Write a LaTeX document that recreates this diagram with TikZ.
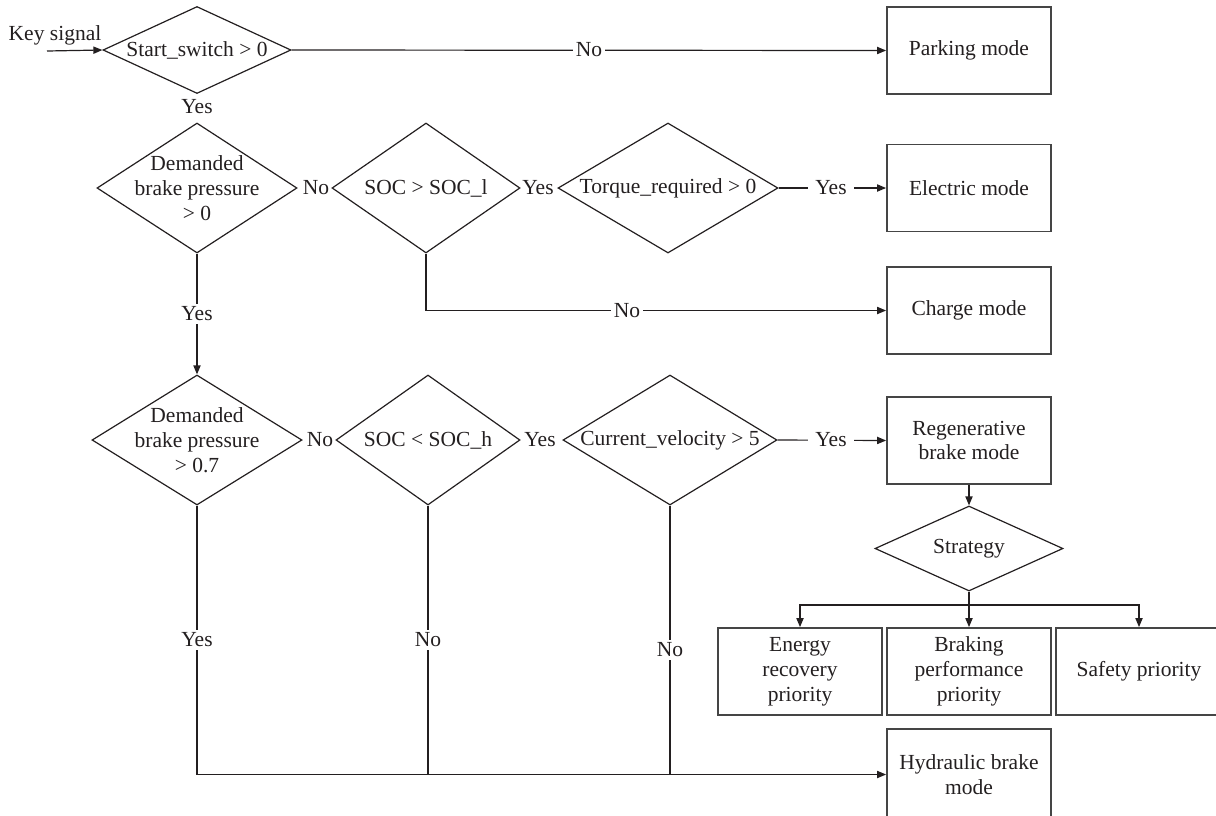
\documentclass[tikz,border=0pt]{standalone}
\usepackage{fontspec}
\setmainfont{Liberation Serif}
\usetikzlibrary{shapes.geometric,arrows.meta}
\definecolor{ink}{HTML}{231F20}
\definecolor{frame}{HTML}{454545}
\begin{document}
\begin{tikzpicture}[x=0.5pt,y=-0.5pt,
  every node/.style={font=\fontsize{10.75}{12.4}\selectfont, text=ink},
  dia/.style={draw=ink, diamond, inner sep=0pt, line width=0.6pt},
  modebox/.style={draw=frame, line width=0.9pt, minimum width=82pt,
    minimum height=43.5pt, inner sep=0pt, align=center},
  txt/.style={align=center, inner sep=1pt},
  lbl/.style={fill=white, inner sep=1.5pt},
  wire/.style={draw=ink, line width=0.6pt},
  arr/.style={wire, -{Triangle[length=4.5pt,width=3.6pt]}}]
\useasboundingbox (0,0) rectangle (1216,815);

% decision diamonds
\node[dia, minimum width=94pt,  minimum height=43.5pt] (d1) at (197,50) {};
\node[dia, minimum width=100pt, minimum height=65pt] (d2) at (197,188) {};
\node[dia, minimum width=94pt,  minimum height=65pt] (d3) at (426,188) {};
\node[dia, minimum width=110pt, minimum height=65pt] (d4) at (668,188) {};
\node[dia, minimum width=105pt, minimum height=65pt] (d5) at (197,440) {};
\node[dia, minimum width=92pt,  minimum height=65pt] (d6) at (428,440) {};
\node[dia, minimum width=107pt, minimum height=65pt] (d7) at (670,440) {};
\node[dia, minimum width=94pt,  minimum height=42.5pt] (strat) at (969,548.5) {};

\node[txt] (t1) at (d1) {Start\_switch > 0};
\node[txt] (t2) at (d2) {Demanded\\brake pressure\\> 0};
\node[txt] (t3) at (d3) {SOC > SOC\_l};
\node[txt] (t4) at (d4) {Torque\_required > 0};
\node[txt] (t5) at (d5) {Demanded\\brake pressure\\> 0.7};
\node[txt] (t6) at (d6) {SOC < SOC\_h};
\node[txt] (t7) at (d7) {Current\_velocity > 5};
\node[txt] (t8) at (strat) {Strategy};

% mode boxes
\node[modebox] (park) at (969,50.5) {Parking mode};
\node[modebox] (elec) at (969,188) {Electric mode};
\node[modebox] (charge) at (969,310.5) {Charge mode};
\node[modebox] (regen) at (969,440.5) {Regenerative\\brake mode};
\node[modebox] (energy) at (800,671.5) {Energy\\recovery\\priority};
\node[modebox] (braking) at (969,671.5) {Braking\\performance\\priority};
\node[modebox, minimum width=83pt] (safety) at (1139,671.5) {Safety priority};
% this box runs past the lower edge of the page
\node[modebox, minimum height=45.5pt] (hyd) at (969,774.5) {Hydraulic brake\\mode};

% key signal input
\coordinate (kin) at (47,51);
\node[txt] (kslbl) at (55,35) {Key signal};
\draw[arr] (kin) -- (d1.west);

% connectors
\draw[arr] (d1.east) -- (park.west);
\draw[arr] (d4.east) -- (elec.west);
\draw[arr] (d3.south) |- (charge.west);
\draw[arr] (d2.south) -- (d5.north);
\draw[arr] (d7.east) -- (regen.west);
\draw[arr] (d5.south) |- (hyd.west);
\draw[wire] (d6.south) -- (d6.south |- hyd.west);
\draw[wire] (d7.south) -- (d7.south |- hyd.west);
\draw[arr] (regen.south) -- (strat.north);
\coordinate (br) at (969,605);
\draw[wire] (strat.south) -- (br);
\draw[arr] (br) -| (energy.north);
\draw[arr] (br) -- (braking.north);
\draw[arr] (br) -| (safety.north);

% branch labels
\node[lbl] (l1) at (589,50) {No};
\node[txt] (l2) at (197,107) {Yes};
\node[txt] (l3) at (316,188) {No};
\node[txt] (l4) at (538,188) {Yes};
\node[lbl, minimum width=23pt] (l5) at (831,188) {Yes};
\node[lbl] (l6) at (627,311) {No};
\node[lbl] (l7) at (197,314) {Yes};
\node[txt] (l8) at (320,440) {No};
\node[txt] (l9) at (540,440) {Yes};
\node[lbl, minimum width=23pt] (l10) at (831,440) {Yes};
\node[lbl] (l11) at (197,640) {Yes};
\node[lbl] (l12) at (428,640) {No};
\node[lbl] (l13) at (670,650) {No};
\end{tikzpicture}
\end{document}
